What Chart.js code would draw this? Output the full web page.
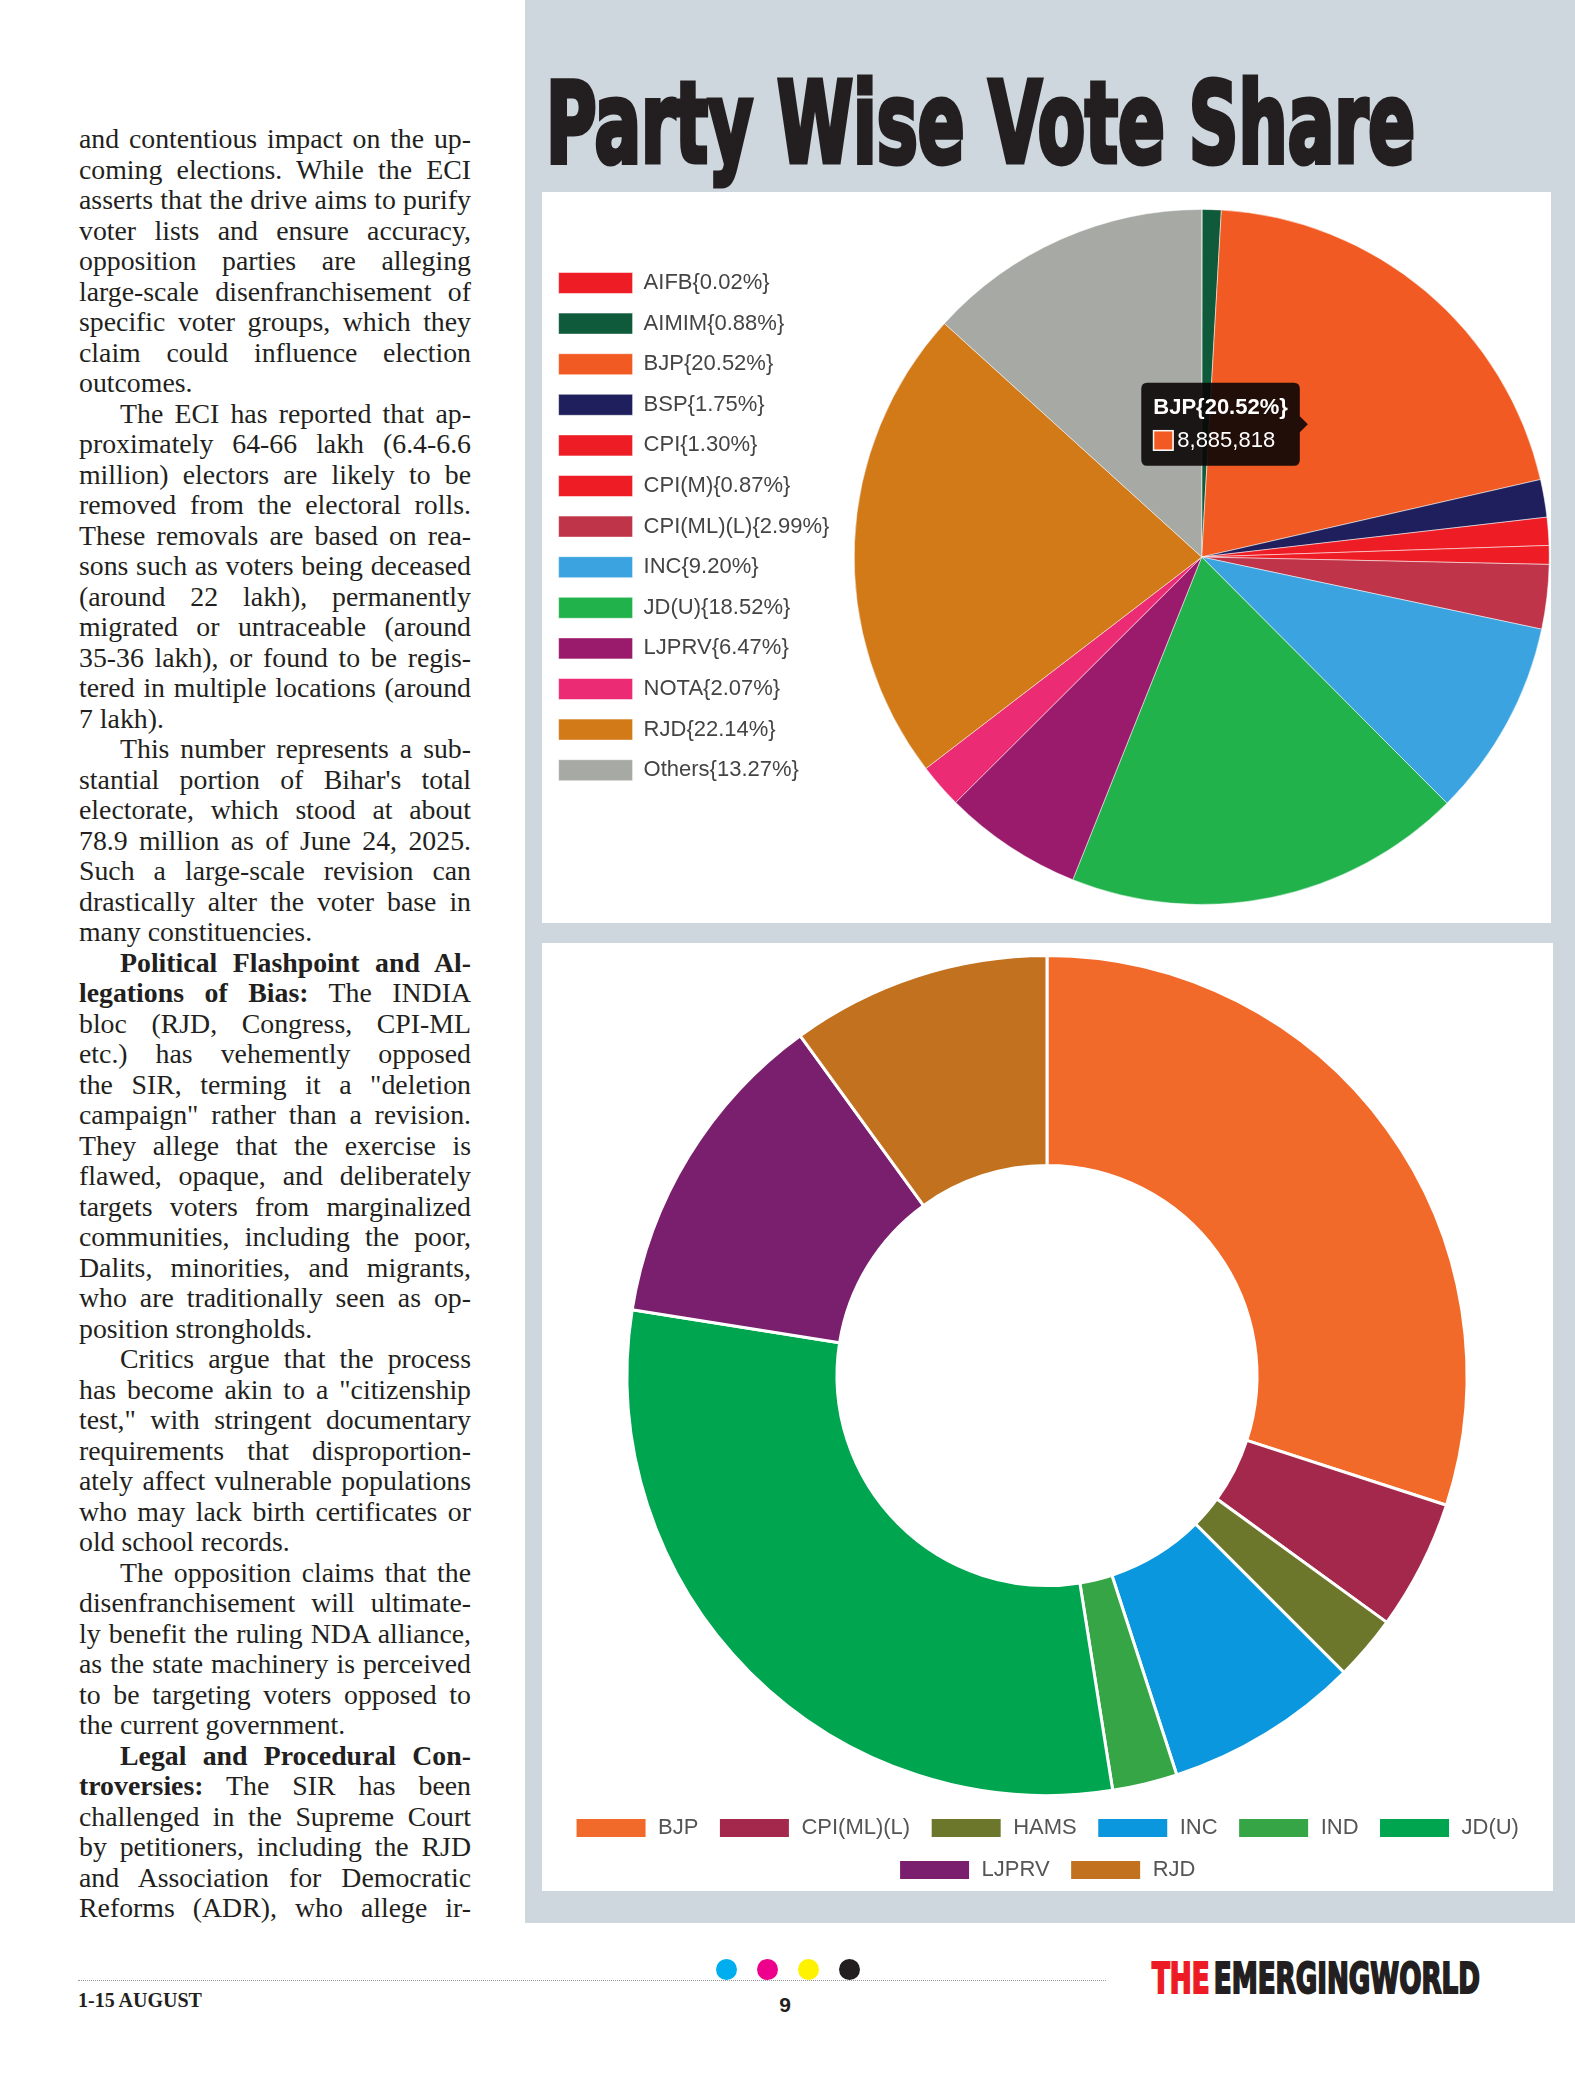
<!DOCTYPE html>
<html>
<head>
<meta charset="utf-8">
<script src="https://cdn.jsdelivr.net/npm/chart.js@4.4.1/dist/chart.umd.min.js"></script>
<style>
  html, body { margin: 0; padding: 0; background: #fff; }
  body { width: 1575px; height: 2087px; position: relative; overflow: hidden; }
  .abs { position: absolute; }
  #grayPanel { left: 525px; top: 0; width: 1050px; height: 1923px; background: #cfd7de; }
  .whitePanel { background: #fff; }
  #title {
    left: 546px; top: 67px; white-space: nowrap; line-height: 1;
    font-family: 'Liberation Sans Narrow', 'DejaVu Sans Condensed', 'Liberation Sans', sans-serif;
    font-weight: bold; font-size: 112px; color: #231f20;
    -webkit-text-stroke: 5px #231f20; transform-origin: left top; display: inline-block;
  }
  #column {
    left: 79px; top: 124px; width: 392px;
    font-family: 'Liberation Serif', 'Times New Roman', serif;
    font-size: 27.8px; line-height: 30.5px; color: #231f20;
  }
  #column div { text-align: justify; text-align-last: justify; }
  #column div.l { text-align-last: left; }
  #column div.i { text-indent: 41px; }
  #rule { left: 78px; top: 1980px; width: 1028px; border-top: 1px dotted #999; }
  .dot { width: 21px; height: 21px; border-radius: 50%; top: 1959px; }
  #issue { left: 78px; top: 1990px; font-family: 'Liberation Serif', serif; font-weight: bold; font-size: 20px; line-height: 1; color: #231f20; }
  #page { left: 775px; top: 1994px; width: 20px; text-align: center; font-family: 'Liberation Sans', sans-serif; font-weight: bold; font-size: 21px; line-height: 1; color: #231f20; }
  #logo {
    left: 1152px; top: 1958px; white-space: nowrap; line-height: 1;
    font-family: 'Liberation Sans Narrow', 'DejaVu Sans Condensed', 'Liberation Sans', sans-serif;
    font-weight: bold; font-size: 42.5px; -webkit-text-stroke: 2px; transform-origin: left top; display: inline-block;
  }
  #logo .red { color: #ed1c24; -webkit-text-stroke-color: #ed1c24; margin-right: 6px; }
  #logo .blk { color: #231f20; -webkit-text-stroke-color: #231f20; }
  canvas { position: absolute; }
</style>
</head>
<body>
<div id="grayPanel" class="abs"></div>
<div class="abs whitePanel" style="left:542px;top:192px;width:1009px;height:731px;"></div>
<div class="abs whitePanel" style="left:542px;top:943px;width:1011px;height:948px;"></div>
<div id="title" class="abs">Party Wise Vote Share</div>

<canvas id="voteShareChart" width="1024" height="731" style="left:540px;top:192px;width:1024px;height:731px;"></canvas>
<canvas id="seatChart" width="1010" height="948" style="left:540px;top:943px;width:1010px;height:948px;"></canvas>

<div id="column" class="abs">
  <div>and contentious impact on the up-</div>
  <div>coming elections. While the ECI</div>
  <div>asserts that the drive aims to purify</div>
  <div>voter lists and ensure accuracy,</div>
  <div>opposition parties are alleging</div>
  <div>large-scale disenfranchisement of</div>
  <div>specific voter groups, which they</div>
  <div>claim could influence election</div>
  <div class="l">outcomes.</div>
  <div class="i">The ECI has reported that ap-</div>
  <div>proximately 64-66 lakh (6.4-6.6</div>
  <div>million) electors are likely to be</div>
  <div>removed from the electoral rolls.</div>
  <div>These removals are based on rea-</div>
  <div>sons such as voters being deceased</div>
  <div>(around 22 lakh), permanently</div>
  <div>migrated or untraceable (around</div>
  <div>35-36 lakh), or found to be regis-</div>
  <div>tered in multiple locations (around</div>
  <div class="l">7 lakh).</div>
  <div class="i">This number represents a sub-</div>
  <div>stantial portion of Bihar's total</div>
  <div>electorate, which stood at about</div>
  <div>78.9 million as of June 24, 2025.</div>
  <div>Such a large-scale revision can</div>
  <div>drastically alter the voter base in</div>
  <div class="l">many constituencies.</div>
  <div class="i"><b>Political Flashpoint and Al-</b></div>
  <div><b>legations of Bias:</b> The INDIA</div>
  <div>bloc (RJD, Congress, CPI-ML</div>
  <div>etc.) has vehemently opposed</div>
  <div>the SIR, terming it a "deletion</div>
  <div>campaign" rather than a revision.</div>
  <div>They allege that the exercise is</div>
  <div>flawed, opaque, and deliberately</div>
  <div>targets voters from marginalized</div>
  <div>communities, including the poor,</div>
  <div>Dalits, minorities, and migrants,</div>
  <div>who are traditionally seen as op-</div>
  <div class="l">position strongholds.</div>
  <div class="i">Critics argue that the process</div>
  <div>has become akin to a "citizenship</div>
  <div>test," with stringent documentary</div>
  <div>requirements that disproportion-</div>
  <div>ately affect vulnerable populations</div>
  <div>who may lack birth certificates or</div>
  <div class="l">old school records.</div>
  <div class="i">The opposition claims that the</div>
  <div>disenfranchisement will ultimate-</div>
  <div>ly benefit the ruling NDA alliance,</div>
  <div>as the state machinery is perceived</div>
  <div>to be targeting voters opposed to</div>
  <div class="l">the current government.</div>
  <div class="i"><b>Legal and Procedural Con-</b></div>
  <div><b>troversies:</b> The SIR has been</div>
  <div>challenged in the Supreme Court</div>
  <div>by petitioners, including the RJD</div>
  <div>and Association for Democratic</div>
  <div>Reforms (ADR), who allege ir-</div>
</div>

<div id="rule" class="abs"></div>
<div class="abs dot" style="left:716px;background:#00aeef;"></div>
<div class="abs dot" style="left:757px;background:#ec008c;"></div>
<div class="abs dot" style="left:798px;background:#fff200;"></div>
<div class="abs dot" style="left:839px;background:#231f20;"></div>
<div id="issue" class="abs">1-15 AUGUST</div>
<div id="page" class="abs">9</div>
<div id="logo" class="abs"><span class="red">THE</span><span class="blk">EMERGINGWORLD</span></div>

<script>
// vote share (pie)
const voteLabels = [
    'AIFB{0.02%}', 'AIMIM{0.88%}', 'BJP{20.52%}', 'BSP{1.75%}', 'CPI{1.30%}',
    'CPI(M){0.87%}', 'CPI(ML)(L){2.99%}', 'INC{9.20%}', 'JD(U){18.52%}',
    'LJPRV{6.47%}', 'NOTA{2.07%}', 'RJD{22.14%}', 'Others{13.27%}',
];
const voteCounts = [
    8661, 381068, 8885818, 757806, 562942,
    376738, 1294766, 3983895, 8019754,
    2801718, 896376, 9587330, 5746336,
];
const voteColors = [
    '#ee1d25', '#0e5a3a', '#f15a22', '#1e1f5c', '#ee1d25',
    '#ee1d25', '#bf3448', '#3aa3e0', '#22b24c',
    '#9a1b6c', '#eb2b74', '#d27918', '#a7a9a4',
];
const highlightIndex = 2; // BJP tooltip

// seats (doughnut)
const seatLabels = ['BJP', 'CPI(ML)(L)', 'HAMS', 'INC', 'IND', 'JD(U)', 'LJPRV', 'RJD'];
const seatCounts = [12, 2, 1, 3, 1, 12, 5, 4];
const seatColors = ['#f26a29', '#a3284b', '#6c772c', '#0a97dd', '#36a546', '#00a550', '#7a1f6e', '#c2721f'];

const SANS = "'Liberation Sans', Arial, sans-serif";
Chart.defaults.font.family = SANS;

function fitWidth(id, target) {
    const el = document.getElementById(id);
    const w = el.getBoundingClientRect().width;
    el.style.transform = `scaleX(${target / w})`;
}
fitWidth('title', 869);
fitWidth('logo', 328);

const pie = new Chart(document.getElementById('voteShareChart').getContext('2d'), {
    type: 'pie',
    data: {
        labels: voteLabels,
        datasets: [{
            data:            voteCounts,
            backgroundColor: voteColors,
            borderColor:     'rgba(255, 255, 255, 0.5)',
            borderWidth:     1,
        }],
    },
    options: {
        responsive: false,
        animation:  false,
        layout: { padding: { top: 17, bottom: 18, left: 0, right: 0 } },
        plugins: {
            legend: {
                position: 'left',
                align:    'start',
                title:    { display: true, text: ' ', font: { size: 12 }, padding: { top: 0, bottom: 30 } },
                labels: {
                    boxWidth:  74,
                    boxHeight: 21,
                    padding:   18.6,
                    color:     '#444',
                    font:      { size: 22 },
                },
            },
            tooltip: {
                xAlign:          'right',
                yAlign:          'center',
                backgroundColor: 'rgba(10, 6, 5, 0.9)',
                padding:         12,
                caretSize:       8,
                caretPadding:    6,
                cornerRadius:    6,
                titleFont:       { size: 22, weight: 'bold' },
                titleMarginBottom: 6,
                bodyFont:        { size: 22 },
                boxWidth:        20,
                boxHeight:       20,
                boxPadding:      2,
                callbacks: {
                    title:      items => items[0].label,
                    label:      item => item.parsed.toLocaleString('en-US'),
                    labelColor: item => ({ borderColor: '#fff', backgroundColor: voteColors[item.dataIndex] }),
                },
            },
        },
    },
});

pie.tooltip.setActiveElements([{ datasetIndex: 0, index: highlightIndex }], { x: 0, y: 0 });
pie.update();

new Chart(document.getElementById('seatChart').getContext('2d'), {
    type: 'doughnut',
    data: {
        labels: seatLabels,
        datasets: [{
            data:            seatCounts,
            backgroundColor: seatColors,
            borderColor:     '#fff',
            borderWidth:     3,
        }],
    },
    options: {
        responsive: false,
        animation:  false,
        cutout:     '50%',
        layout: { padding: { top: 11, bottom: 0, left: 4, right: 0 } },
        plugins: {
            legend: {
                position: 'bottom',
                labels: {
                    boxWidth:  72,
                    boxHeight: 21,
                    padding:   20,
                    color:     '#555',
                    font:      { size: 22 },
                },
            },
            tooltip: { enabled: false },
        },
    },
});
</script>
</body>
</html>
